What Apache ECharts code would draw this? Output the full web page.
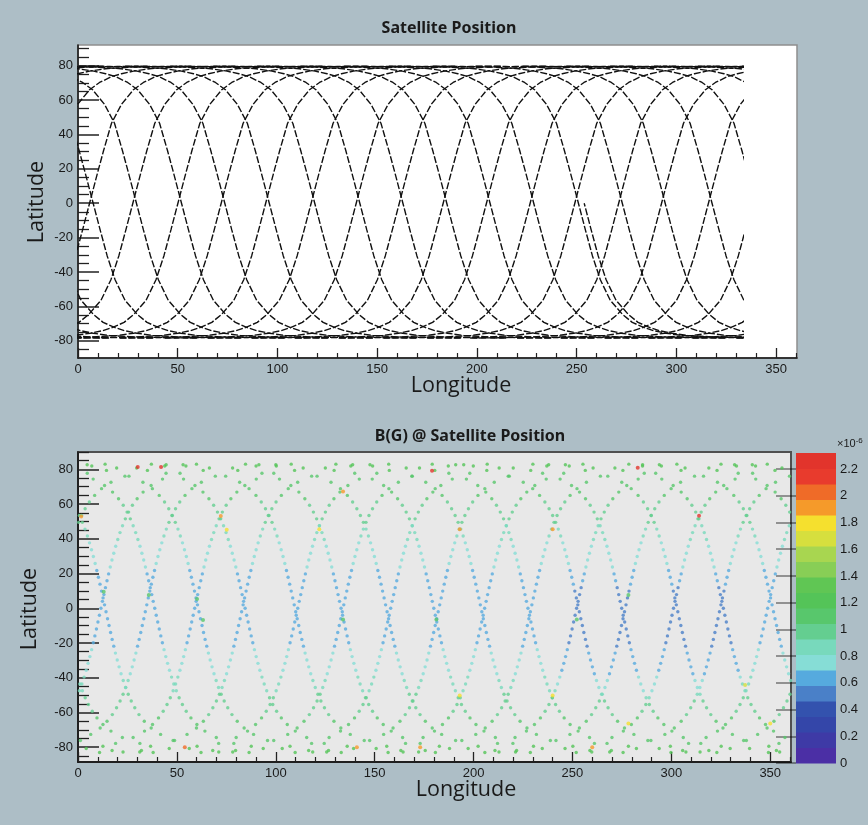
<!DOCTYPE html>
<html><head><meta charset="utf-8">
<script src="https://cdn.jsdelivr.net/npm/echarts@6/dist/echarts.min.js"></script>
<style>html,body{margin:0;padding:0;background:#adbec6}#c{width:868px;height:825px}</style>
</head><body><div id="c"></div>
<script>
// ---------- Top panel: ground-track line profile (lon offset from equator crossing, latitude) ----------
const topProfileDelta = [-96, -80, -64, -52, -44, -38, -33, -27, -22, -16, -11, -7, -3.5, 0, 3.5, 7, 11, 16, 22, 27, 33, 38, 44, 52, 64, 80, 96];
const topProfileLat   = [-78.4, -78.2, -77.7, -76.9, -75.6, -74.2, -72.3, -69.3, -64.5, -56.5, -44.5, -30.5, -15.5, 0, 15.5, 30.5, 46.5, 57.5, 66, 70.2, 73.6, 75.3, 76.8, 78.2, 79.1, 79.5, 79.7];
// equator crossings of the passes (top panel)
const topAscNodes  = [-82.2, -60.2, -38.2, -16.2, 5.8, 27.5, 50.1, 71.8, 94.1, 116.9, 139.5, 161.1, 183.1, 204.8, 226.7, 249.1, 271.1, 292.6, 316.1, 338.1, 360.1, 382.1, 404.1, 426.1];
const topDescNodes = [-80.4, -58.4, -36.4, -14.4, 7.6, 29.3, 51.9, 73.6, 95.9, 118.7, 141.3, 162.9, 184.9, 206.6, 228.5, 250.9, 272.9, 294.4, 317.9, 339.9, 361.9, 383.9, 405.9, 427.9];
const topPartialNode = 253.8;     // a pass seen only south of the equator
const topDataEndLon = 333;        // tracks stop here

// ---------- Bottom panel: sampled dots along a pass (two sampling phases) ----------
const dotDeltaA = [-79.87, -54.84, -39.99, -31.13, -25.37, -21.32, -18.3, -15.92, -13.98, -12.34, -10.91, -9.64, -8.51, -7.46, -6.49, -5.58, -4.71, -3.87, -3.07, -2.28, -1.51, -0.76, 0, 0.76, 1.51, 2.28, 3.07, 3.87, 4.71, 5.58, 6.49, 7.46, 8.51, 9.64, 10.91, 12.34, 13.98, 15.92, 18.3, 21.32, 25.37, 31.13, 39.99, 54.84, 79.87];
const dotLatA   = [-82.7, -80.75, -77.8, -74.4, -70.7, -66.9, -63.1, -59.3, -55.4, -51.5, -47.5, -43.6, -39.6, -35.7, -31.7, -27.8, -23.8, -19.8, -15.9, -11.9, -7.9, -4, 0, 4, 7.9, 11.9, 15.9, 19.8, 23.8, 27.8, 31.7, 35.7, 39.6, 43.6, 47.5, 51.5, 55.4, 59.3, 63.1, 66.9, 70.7, 74.4, 77.8, 80.75, 82.7];
const dotBA     = [1.185, 1.17, 1.15, 1.13, 1.11, 1.085, 1.06, 1.02, 0.985, 0.955, 0.91, 0.865, 0.825, 0.79, 0.765, 0.735, 0.705, 0.675, 0.655, 0.645, 0.635, 0.625, 0.62, 0.625, 0.635, 0.645, 0.655, 0.675, 0.705, 0.735, 0.765, 0.79, 0.825, 0.865, 0.91, 0.955, 0.985, 1.02, 1.06, 1.085, 1.11, 1.13, 1.15, 1.17, 1.185];
const dotDeltaB = [-96, -65.87, -46.4, -35.03, -27.97, -23.2, -19.72, -17.04, -14.91, -13.12, -11.6, -10.26, -9.06, -7.97, -6.97, -6.03, -5.13, -4.29, -3.47, -2.67, -1.9, -1.13, -0.38, 0.38, 1.13, 1.9, 2.67, 3.47, 4.29, 5.13, 6.03, 6.97, 7.97, 9.06, 10.26, 11.6, 13.12, 14.91, 17.04, 19.72, 23.2, 27.97, 35.03, 46.4, 65.87, 96];
const dotLatB   = [-83, -81.9, -79.4, -76.1, -72.6, -68.9, -65, -61.2, -57.3, -53.4, -49.5, -45.6, -41.6, -37.7, -33.7, -29.8, -25.8, -21.8, -17.9, -13.9, -9.9, -6, -2, 2, 6, 9.9, 13.9, 17.9, 21.8, 25.8, 29.8, 33.7, 37.7, 41.6, 45.6, 49.5, 53.4, 57.3, 61.2, 65, 68.9, 72.6, 76.1, 79.4, 81.9, 83];
const dotBB     = [1.19, 1.18, 1.16, 1.14, 1.12, 1.1, 1.075, 1.04, 1.0, 0.97, 0.935, 0.885, 0.845, 0.805, 0.78, 0.75, 0.72, 0.69, 0.665, 0.65, 0.64, 0.63, 0.62, 0.62, 0.63, 0.64, 0.65, 0.665, 0.69, 0.72, 0.75, 0.78, 0.805, 0.845, 0.885, 0.935, 0.97, 1.0, 1.04, 1.075, 1.1, 1.12, 1.14, 1.16, 1.18, 1.19];
const botAscNodes  = [-83.3, -58.9, -35.3, -11.3, 11.6, 34.4, 59.0, 83.1, 111.1, 134.0, 158.1, 182.5, 205.6, 229.1, 252.1, 276.7, 301.1, 324.7, 348.7, 371.6, 394.4, 419.0, 443.1];
const botDescNodes = [-85.1, -57.1, -33.8, -8.7, 13.8, 38.8, 60.8, 84.5, 109.7, 133.0, 155.9, 179.9, 203.8, 227.5, 253.1, 274.9, 302.9, 326.3, 351.3, 373.8, 398.8, 420.8, 444.5];
// weaker-field patch seen (darker blue dots) south of the equator: lon range, lat range, drop in B
const lowFieldLon = [242, 335];
const lowFieldLat = [-52, 12];
const lowFieldDrop = 0.12;
// individual high-field dots
const outLon = [30.2, 42, 179, 283, 314, 1.6, 72.2, 54, 134, 141, 173, 193, 240, 260, 75.2, 122, 193, 240, 278.3, 337.3, 350, 13.0, 35.8, 60.2, 63.2, 134, 181.2, 252.2, 278.3];
const outLat = [81.3, 81.3, 79.2, 81, 53.3, 52.8, 53.2, -80, 67.3, -80, -80, 45.5, 45.5, -80, 45.2, 45.5, -50.2, -50.2, -66.3, -44.2, -66.3, 9.6, 7.7, 5.4, -6.7, -6.4, -6.4, -6.4, 7.7];
const outB   = [2.25, 2.25, 2.25, 2.25, 2.25, 1.9, 1.9, 2.0, 1.95, 1.95, 1.95, 1.9, 1.95, 1.95, 1.8, 1.8, 1.8, 1.8, 1.8, 1.7, 1.8, 1.15, 1.15, 1.15, 1.15, 1.15, 1.15, 1.15, 1.15];

// ---------- axes / colour scale ----------
const latTicks = [-80, -60, -40, -20, 0, 20, 40, 60, 80];
const latMinorTicks = [-85, -75, -70, -65, -55, -50, -45, -35, -30, -25, -15, -10, -5, 5, 10, 15, 25, 30, 35, 45, 50, 55, 65, 70, 75, 85, 90];
const lonTicks = [0, 50, 100, 150, 200, 250, 300, 350];
const lonMinorTicks = [10, 20, 30, 40, 60, 70, 80, 90, 110, 120, 130, 140, 160, 170, 180, 190, 210, 220, 230, 240, 260, 270, 280, 290, 310, 320, 330, 340, 360];
const zTicks = [0, 0.2, 0.4, 0.6, 0.8, 1, 1.2, 1.4, 1.6, 1.8, 2, 2.2];
const zBandEdges = [0, 0.116, 0.232, 0.348, 0.464, 0.58, 0.696, 0.812, 0.928, 1.044, 1.16, 1.276, 1.392, 1.508, 1.624, 1.74, 1.856, 1.972, 2.088, 2.204, 2.32];
const zBandColors = ['#4b2fa5', '#3e3aa6', '#3446a9', '#3352ae', '#4a80c8', '#56aade', '#86ddd6', '#78d9bc', '#64ce90', '#58c76c', '#54c458', '#60c654', '#88ce56', '#a8d650', '#d6df3e', '#f5e02e', '#f59a2a', '#ef6b28', '#e83b2d', '#e2342c'];

// ---------- build ----------
const series = [];
const lineStyle = {color: '#111', width: 1.4, type: [7, 2]};
function addTopPass(node, dir, southOnly) {
  const pts = [];
  topProfileDelta.forEach((d, i) => {
    if (southOnly && topProfileLat[i] > 0) return;
    pts.push([node + dir * d, topProfileLat[i]]);
  });
  series.push({type: 'line', xAxisIndex: 2, yAxisIndex: 2, data: pts, showSymbol: false, silent: true,
    lineStyle: lineStyle, animation: false, z: 3});
}
topAscNodes.forEach(n => addTopPass(n, 1, false));
topDescNodes.forEach(n => addTopPass(n, -1, false));
addTopPass(topPartialNode, -1, true);

const dots = [];
function addDots(node, dir, phase) {
  const D = phase ? dotDeltaB : dotDeltaA, L = phase ? dotLatB : dotLatA, B = phase ? dotBB : dotBA;
  D.forEach((d, i) => {
    const lon = node + dir * d, lat = L[i];
    let b = B[i];
    if (lon >= lowFieldLon[0] && lon <= lowFieldLon[1] && lat >= lowFieldLat[0] && lat <= lowFieldLat[1]) b -= lowFieldDrop;
    dots.push([lon, lat, b]);
  });
}
botAscNodes.forEach((n, i) => addDots(n, 1, i % 2));
botDescNodes.forEach((n, i) => addDots(n, -1, (i + 1) % 2));
const scatterIndex = series.length;
series.push({type: 'scatter', xAxisIndex: 3, yAxisIndex: 3, data: dots, symbolSize: 3.4, silent: true, animation: false, z: 3});
series.push({type: 'scatter', xAxisIndex: 3, yAxisIndex: 3, data: outLon.map((x, i) => [x, outLat[i], outB[i]]),
  symbolSize: 4, silent: true, animation: false, z: 4});
const bands = zBandColors.map((c, i) => [zBandEdges[i], zBandEdges[i + 1]]);
series.push({type: 'custom', xAxisIndex: 5, yAxisIndex: 5, data: bands, silent: true, animation: false,
  renderItem: (params, api) => {
    const p0 = api.coord([0, api.value(1)]), p1 = api.coord([1, api.value(0)]);
    return {type: 'rect', shape: {x: p0[0], y: p0[1], width: p1[0] - p0[0], height: p1[1] - p0[1] + 0.5},
      style: {fill: zBandColors[params.dataIndex]}};
  }});

const lab = {fontFamily: 'Liberation Sans', fontSize: 13, color: '#1a1a1a'};
function xMain(grid, max) {
  return {type: 'value', gridIndex: grid, min: 0, max: max, position: 'bottom',
    axisLine: {show: true, onZero: false, lineStyle: {color: '#111', width: 1.5}},
    axisTick: {show: true, inside: true, length: 10, customValues: lonTicks, lineStyle: {color: '#222', width: 1.3}},
    axisLabel: Object.assign({show: true, margin: 5, customValues: lonTicks}, lab),
    splitLine: {show: false}};
}
function xMinor(grid, max) {
  return {type: 'value', gridIndex: grid, min: 0, max: max, position: 'bottom',
    axisLine: {show: false, onZero: false}, axisLabel: {show: false}, splitLine: {show: false},
    axisTick: {show: true, inside: true, length: 5, customValues: lonMinorTicks, lineStyle: {color: '#222', width: 1.2}}};
}
function yMain(grid, min, max) {
  return {type: 'value', gridIndex: grid, min: min, max: max, position: 'left',
    axisLine: {show: true, onZero: false, lineStyle: {color: '#111', width: 1.5}},
    axisTick: {show: true, inside: true, length: 21, customValues: latTicks, lineStyle: {color: '#222', width: 1.5}},
    axisLabel: Object.assign({show: true, margin: 5, customValues: latTicks}, lab),
    splitLine: {show: false}};
}
function yMinor(grid, min, max) {
  return {type: 'value', gridIndex: grid, min: min, max: max, position: 'left',
    axisLine: {show: false, onZero: false}, axisLabel: {show: false}, splitLine: {show: false},
    axisTick: {show: true, inside: true, length: 11, customValues: latMinorTicks, lineStyle: {color: '#222', width: 1.3}}};
}

const txt = (text, x, y, font, rot) => ({type: 'text', x: x, y: y, rotation: rot || 0, silent: true, z: 10,
  style: {text: text, font: font, fill: '#1a1a1a', align: 'center', verticalAlign: 'middle', textAlign: 'center', textVerticalAlign: 'middle'}});

const option = {
  backgroundColor: '#adbec6',
  animation: false,
  grid: [
    {left: 78, top: 45, width: 719, height: 313, show: true, backgroundColor: '#ffffff', borderColor: '#8e8e8e', borderWidth: 1.5},
    {left: 78, top: 45, width: 719 * topDataEndLon / 360.5, height: 313, show: false},
    {left: 78, top: 452, width: 713, height: 310, show: true, backgroundColor: '#e8e8e8', borderColor: '#505050', borderWidth: 2},
    {left: 796, top: 453, width: 40, height: 310, show: false}
  ],
  xAxis: [
    xMain(0, 360.5), xMinor(0, 360.5),
    {type: 'value', gridIndex: 1, min: 0, max: topDataEndLon, show: false},
    xMain(2, 360.5), xMinor(2, 360.5),
    {type: 'value', gridIndex: 3, min: 0, max: 1, show: false}
  ],
  yAxis: [
    yMain(0, -90, 92), yMinor(0, -90, 92),
    {type: 'value', gridIndex: 1, min: -90, max: 92, show: false},
    yMain(2, -88.5, 90), yMinor(2, -88.5, 90),
    {type: 'value', gridIndex: 3, min: 0, max: 2.32, position: 'right',
      axisLine: {show: false}, splitLine: {show: false},
      axisTick: {show: true, inside: true, length: 20, customValues: zTicks, lineStyle: {color: 'rgba(0,0,0,0.5)', width: 1.5}},
      axisLabel: Object.assign({show: true, margin: 4, customValues: zTicks}, lab)}
  ],
  visualMap: [{type: 'piecewise', show: false, seriesIndex: [scatterIndex, scatterIndex + 1], dimension: 2,
    pieces: zBandColors.map((c, i) => ({gte: zBandEdges[i], lt: zBandEdges[i + 1], color: c}))}],
  graphic: [
    txt('Satellite Position', 449, 28, 'bold 16px "Noto Sans"'),
    txt('B(G) @ Satellite Position', 470, 436, 'bold 16px "Noto Sans"'),
    txt('Latitude', 37, 202, '21.5px "Open Sans"', Math.PI / 2),
    txt('Latitude', 30, 609, '21.5px "Open Sans"', Math.PI / 2),
    txt('Longitude', 461, 386, '21.5px "Open Sans"'),
    txt('Longitude', 466, 790, '21.5px "Open Sans"'),
    {type: 'text', x: 837, y: 437, silent: true, z: 10,
      style: {text: '{a|×10}{b|-6}', fill: '#1a1a1a',
        rich: {a: {fontFamily: 'Liberation Sans', fontSize: 11, color: '#1a1a1a'},
               b: {fontFamily: 'Liberation Sans', fontSize: 8, color: '#1a1a1a', verticalAlign: 'top', padding: [0, 0, 6, 0]}}}}
  ],
  series: series
};
const chart = echarts.init(document.getElementById('c'), null, {renderer: 'canvas'});
chart.setOption(option);
</script></body></html>
